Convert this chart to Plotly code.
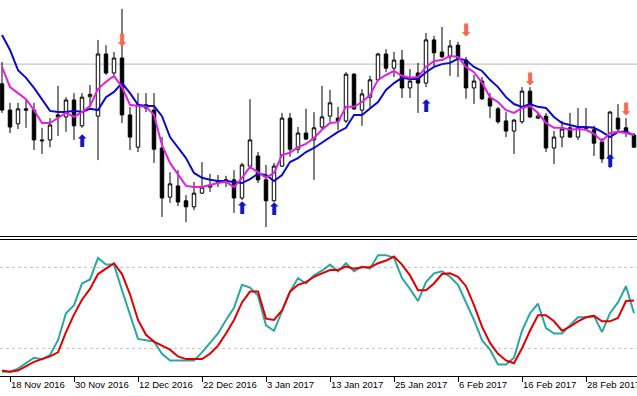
import plotly.graph_objects as go
import pandas as pd

# ---------------- data ----------------
dates = pd.bdate_range("2016-11-17", periods=80).strftime("%Y-%m-%d").tolist()

open_ = [1.0690, 1.0625, 1.0591, 1.0628, 1.0625, 1.0551, 1.0551, 1.0613, 1.0608, 1.0650,
         1.0586, 1.0658, 1.0610, 1.0764, 1.0717, 1.0754, 1.0613, 1.0533, 1.0638, 1.0625,
         1.0531, 1.0409, 1.0437, 1.0400, 1.0385, 1.0419, 1.0434, 1.0447, 1.0449, 1.0452,
         1.0407, 1.0486, 1.0511, 1.0452, 1.0400, 1.0486, 1.0605, 1.0528, 1.0568, 1.0551,
         1.0583, 1.0610, 1.0605, 1.0598, 1.0714, 1.0625, 1.0657, 1.0700, 1.0764, 1.0729,
         1.0749, 1.0680, 1.0717, 1.0692, 1.0799, 1.0769, 1.0757, 1.0786, 1.0749, 1.0680,
         1.0697, 1.0655, 1.0628, 1.0598, 1.0573, 1.0596, 1.0672, 1.0605, 1.0610, 1.0531,
         1.0558, 1.0581, 1.0558, 1.0581, 1.0576, 1.0546, 1.0504, 1.0605, 1.0581, 1.0563]
high = [1.0744, 1.0643, 1.0643, 1.0650, 1.0643, 1.0581, 1.0605, 1.0685, 1.0657, 1.0667,
        1.0667, 1.0687, 1.0799, 1.0786, 1.0769, 1.0876, 1.0633, 1.0667, 1.0667, 1.0667,
        1.0558, 1.0471, 1.0476, 1.0414, 1.0447, 1.0496, 1.0467, 1.0464, 1.0462, 1.0476,
        1.0494, 1.0652, 1.0521, 1.0489, 1.0494, 1.0618, 1.0618, 1.0583, 1.0628, 1.0620,
        1.0685, 1.0675, 1.0633, 1.0719, 1.0717, 1.0677, 1.0710, 1.0767, 1.0776, 1.0769,
        1.0774, 1.0727, 1.0742, 1.0816, 1.0809, 1.0831, 1.0799, 1.0794, 1.0757, 1.0712,
        1.0707, 1.0667, 1.0633, 1.0620, 1.0603, 1.0682, 1.0682, 1.0618, 1.0618, 1.0573,
        1.0598, 1.0618, 1.0630, 1.0630, 1.0586, 1.0556, 1.0623, 1.0640, 1.0605, 1.0568]
low = [1.0618, 1.0568, 1.0578, 1.0581, 1.0526, 1.0516, 1.0533, 1.0561, 1.0571, 1.0551,
       1.0581, 1.0633, 1.0501, 1.0712, 1.0712, 1.0593, 1.0526, 1.0521, 1.0620, 1.0494,
       1.0360, 1.0395, 1.0387, 1.0347, 1.0377, 1.0417, 1.0422, 1.0434, 1.0434, 1.0370,
       1.0402, 1.0484, 1.0444, 1.0335, 1.0397, 1.0484, 1.0509, 1.0518, 1.0551, 1.0452,
       1.0576, 1.0596, 1.0576, 1.0593, 1.0625, 1.0586, 1.0630, 1.0697, 1.0719, 1.0707,
       1.0655, 1.0655, 1.0618, 1.0682, 1.0732, 1.0754, 1.0710, 1.0707, 1.0653, 1.0640,
       1.0650, 1.0605, 1.0591, 1.0558, 1.0516, 1.0591, 1.0605, 1.0603, 1.0521, 1.0491,
       1.0533, 1.0556, 1.0551, 1.0578, 1.0511, 1.0494, 1.0481, 1.0573, 1.0558, 1.0531]
close = [1.0625, 1.0583, 1.0628, 1.0625, 1.0551, 1.0549, 1.0588, 1.0608, 1.0650, 1.0586,
         1.0657, 1.0664, 1.0764, 1.0717, 1.0754, 1.0613, 1.0558, 1.0638, 1.0630, 1.0528,
         1.0407, 1.0442, 1.0397, 1.0385, 1.0419, 1.0434, 1.0439, 1.0446, 1.0452, 1.0407,
         1.0489, 1.0551, 1.0452, 1.0400, 1.0486, 1.0605, 1.0528, 1.0568, 1.0553, 1.0581,
         1.0608, 1.0643, 1.0598, 1.0714, 1.0628, 1.0665, 1.0700, 1.0764, 1.0729, 1.0749,
         1.0680, 1.0697, 1.0692, 1.0799, 1.0767, 1.0757, 1.0784, 1.0754, 1.0680, 1.0697,
         1.0653, 1.0635, 1.0596, 1.0573, 1.0600, 1.0672, 1.0608, 1.0610, 1.0531, 1.0558,
         1.0578, 1.0558, 1.0581, 1.0580, 1.0543, 1.0504, 1.0620, 1.0578, 1.0568, 1.0533]

ma_fast = [1.0732, 1.0682, 1.0667, 1.0652, 1.0625, 1.0593, 1.0593, 1.0605, 1.0618, 1.0608,
           1.0620, 1.0635, 1.0677, 1.0695, 1.0710, 1.0682, 1.0638, 1.0635, 1.0633, 1.0613,
           1.0538, 1.0494, 1.0464, 1.0437, 1.0434, 1.0434, 1.0439, 1.0444, 1.0447, 1.0434,
           1.0457, 1.0484, 1.0471, 1.0457, 1.0469, 1.0514, 1.0519, 1.0533, 1.0541, 1.0556,
           1.0576, 1.0593, 1.0595, 1.0633, 1.0633, 1.0645, 1.0662, 1.0700, 1.0712, 1.0722,
           1.0710, 1.0705, 1.0707, 1.0732, 1.0747, 1.0749, 1.0759, 1.0757, 1.0732, 1.0719,
           1.0693, 1.0657, 1.0645, 1.0625, 1.0618, 1.0630, 1.0635, 1.0618, 1.0593, 1.0581,
           1.0581, 1.0576, 1.0578, 1.0576, 1.0566, 1.0548, 1.0568, 1.0571, 1.0568, 1.0563]
ma_slow = [1.0811, 1.0774, 1.0724, 1.0705, 1.0680, 1.0650, 1.0623, 1.0620, 1.0620, 1.0623,
           1.0620, 1.0628, 1.0625, 1.0657, 1.0670, 1.0692, 1.0667, 1.0638, 1.0635, 1.0635,
           1.0610, 1.0558, 1.0533, 1.0506, 1.0469, 1.0457, 1.0452, 1.0449, 1.0449, 1.0447,
           1.0444, 1.0454, 1.0467, 1.0464, 1.0449, 1.0464, 1.0496, 1.0506, 1.0521, 1.0531,
           1.0545, 1.0558, 1.0571, 1.0581, 1.0613, 1.0613, 1.0630, 1.0645, 1.0675, 1.0692,
           1.0705, 1.0702, 1.0702, 1.0719, 1.0732, 1.0739, 1.0742, 1.0752, 1.0749, 1.0732,
           1.0722, 1.0700, 1.0682, 1.0657, 1.0640, 1.0633, 1.0640, 1.0633, 1.0630, 1.0608,
           1.0593, 1.0588, 1.0583, 1.0583, 1.0581, 1.0571, 1.0558, 1.0571, 1.0571, 1.0563]

stoch_k = [2.7, 2.7, 5, 9, 13, 12, 15, 26, 46, 52,
           68, 71, 87, 82, 82, 63, 45, 27, 26, 25,
           16, 11, 11, 11, 11, 17, 24, 31, 41, 50,
           67, 65, 59, 37, 33, 48, 62, 72, 68, 74,
           77.5, 82, 77, 83, 77, 80.5, 79, 89, 89, 87,
           72, 64, 55, 69, 75.5, 77, 73, 67, 54, 41,
           26, 19, 8, 8, 13, 33, 46, 53, 35, 31,
           31, 37, 43, 43, 44, 32, 46, 54, 66, 46]
stoch_d = [3.5, 2.7, 3.5, 6.5, 10, 12, 14, 17, 32, 45,
           56, 64, 75, 79, 83, 75, 60, 41, 30, 25,
           22, 19, 14, 12, 12, 12, 16, 22, 31, 41,
           54, 62, 62, 42, 41, 48, 62, 67, 69, 73,
           75.5, 78, 78, 80.5, 79, 80, 80, 83, 85, 88,
           82, 74, 63, 63, 68, 75, 75.5, 73, 66, 52,
           36, 24, 16, 11, 9, 20, 33, 44.5, 44.5, 40,
           33, 36, 40, 43, 44, 40, 40, 42.5, 55, 55.5]

buy_idx = [10, 30, 34, 53, 76]
buy_price = [1.0543, 1.0378, 1.0375, 1.0631, 1.0495]
sell_idx = [15, 58, 66, 78]
sell_price = [1.0795, 1.0820, 1.0698, 1.0623]

level_price = 1.0739
stoch_levels = [20, 80]

tick_dates = ["2016-11-18", "2016-11-30", "2016-12-12", "2016-12-22", "2017-01-03",
              "2017-01-13", "2017-01-25", "2017-02-06", "2017-02-16", "2017-02-28"]
tick_labels = ["18 Nov 2016", "30 Nov 2016", "12 Dec 2016", "22 Dec 2016", "3 Jan 2017",
               "13 Jan 2017", "25 Jan 2017", "6 Feb 2017", "16 Feb 2017", "28 Feb 2017"]

# ---------------- figure ----------------
fig = go.Figure()

fig.add_trace(go.Candlestick(
    x=dates, open=open_, high=high, low=low, close=close,
    increasing=dict(fillcolor="white", line=dict(color="black", width=1)),
    decreasing=dict(fillcolor="black", line=dict(color="black", width=1)),
    whiskerwidth=0, xaxis="x", yaxis="y", showlegend=False, hoverinfo="skip"))

fig.add_trace(go.Scatter(x=dates, y=ma_slow, mode="lines",
                         line=dict(color="#0c0cc4", width=2), xaxis="x", yaxis="y",
                         showlegend=False, hoverinfo="skip"))
fig.add_trace(go.Scatter(x=dates, y=ma_fast, mode="lines",
                         line=dict(color="#dc24dc", width=2), xaxis="x", yaxis="y",
                         showlegend=False, hoverinfo="skip"))

fig.add_trace(go.Scatter(x=[dates[i] for i in buy_idx], y=buy_price, mode="text",
                         text=["⬆"] * len(buy_idx),
                         textfont=dict(family="DejaVu Sans", size=17, color="#1414c0"),
                         xaxis="x", yaxis="y", showlegend=False, hoverinfo="skip"))
fig.add_trace(go.Scatter(x=[dates[i] for i in sell_idx], y=sell_price, mode="text",
                         text=["⬇"] * len(sell_idx),
                         textfont=dict(family="DejaVu Sans", size=17, color="#f26a52"),
                         xaxis="x", yaxis="y", showlegend=False, hoverinfo="skip"))

fig.add_trace(go.Scatter(x=dates, y=stoch_k, mode="lines",
                         line=dict(color="#2aa8a0", width=2), xaxis="x2", yaxis="y2",
                         showlegend=False, hoverinfo="skip"))
fig.add_trace(go.Scatter(x=dates, y=stoch_d, mode="lines",
                         line=dict(color="#e00000", width=2), xaxis="x2", yaxis="y2",
                         showlegend=False, hoverinfo="skip"))

shapes = [dict(type="line", xref="paper", x0=0, x1=1, yref="y", y0=level_price, y1=level_price,
               line=dict(color="#b8b8b8", width=1), layer="below")]
for lv in stoch_levels:
    shapes.append(dict(type="line", xref="paper", x0=0, x1=1, yref="y2", y0=lv, y1=lv,
                       line=dict(color="#c0c0c0", width=1, dash="3px,3px"), layer="below"))

xr = [-0.25, 79.375]
fig.update_layout(
    width=637, height=396,
    margin=dict(l=0, r=0, t=0, b=20, autoexpand=False),
    paper_bgcolor="white", plot_bgcolor="white",
    boxgap=0.38,
    shapes=shapes,
    xaxis=dict(domain=[0, 1], anchor="y", type="category", categoryorder="array",
               categoryarray=dates, range=xr, autorange=False, showticklabels=False,
               showgrid=False, automargin=False,
               showline=True, linecolor="black", linewidth=1, ticks="",
               rangeslider=dict(visible=False), zeroline=False),
    yaxis=dict(domain=[0.37234, 1], range=[1.03127, 1.0898], autorange=False, visible=False,
               showgrid=False, zeroline=False, automargin=False),
    xaxis2=dict(domain=[0, 1], anchor="y2", type="category", categoryorder="array",
                categoryarray=dates, range=xr, autorange=False, tickmode="array",
                tickvals=tick_dates, ticktext=tick_labels, ticks="outside", ticklen=5,
                tickcolor="black", tickwidth=1, tickangle=0, automargin=False,
                showline=True, mirror=True, linecolor="black", linewidth=1,
                ticklabelposition="outside right", showgrid=False, zeroline=False,
                tickfont=dict(family="Liberation Sans", size=9.5, color="black")),
    yaxis2=dict(domain=[0, 0.36303], range=[-0.5, 100.6], autorange=False, visible=False,
                showgrid=False, zeroline=False, automargin=False),
)

fig.write_html("out.html", config={"displayModeBar": False},
               post_script="document.body.style.margin='0';")
